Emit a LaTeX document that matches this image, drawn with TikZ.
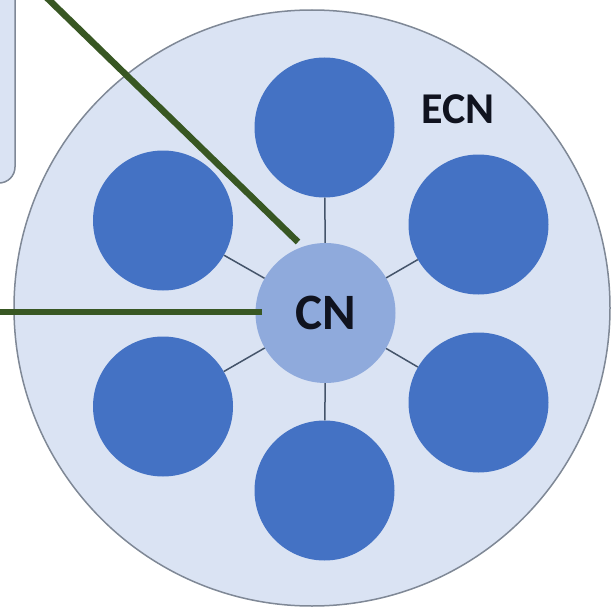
\documentclass[tikz,border=0pt]{standalone}
\usepackage{fontspec}
\setmainfont{Carlito}
\definecolor{ecnfill}{HTML}{DAE3F3}
\definecolor{ecnline}{HTML}{7F8896}
\definecolor{nodeblue}{HTML}{4472C4}
\definecolor{cnfill}{HTML}{8FAADC}
\definecolor{spoke}{HTML}{44546A}
\definecolor{linkgreen}{HTML}{385723}
\definecolor{txt}{HTML}{10131F}
\begin{document}
\begin{tikzpicture}[x=1pt,y=-1pt,
  member/.style={circle,fill=nodeblue,draw=none,minimum size=140pt,inner sep=0pt},
  core/.style={circle,fill=cnfill,draw=none,minimum size=140pt,inner sep=0pt,
    font=\fontsize{51}{51}\selectfont\bfseries,text=txt},
  cluster/.style={circle,fill=ecnfill,draw=ecnline,line width=1.5pt,minimum size=596pt,inner sep=0pt},
  spokeline/.style={draw=spoke,line width=1.5pt},
  greenlink/.style={draw=linkgreen,line width=6.5pt}]
\useasboundingbox (0,0) rectangle (611,610);
\clip (0,0) rectangle (611,610);
\fill[white] (0,0) rectangle (611,610);
% partial box at top left
\path[fill=ecnfill,draw=ecnline,line width=1.5pt,rounded corners=16pt] (-60,-60) rectangle (15,183);
% outer cluster
\node[cluster] (ecn) at (312,308) {};
\node[font=\fontsize{44}{44}\selectfont\bfseries,text=txt] (ecnlabel) at (458,109) {ECN};
% members
\node[member] (n1) at (324.5,127.5) {};
\node[member] (n2) at (478.5,224.5) {};
\node[member] (n3) at (478.5,402.5) {};
\node[member] (n4) at (324.5,490.5) {};
\node[member] (n5) at (163,406.5) {};
\node[member] (n6) at (163,220.5) {};
% core
\node[core] (cn) at (325.5,313) {CN};
\foreach \n in {n1,n2,n3,n4,n5,n6} \draw[spokeline] (cn) -- (\n);
% green links
\coordinate (g1a) at (45,-4);
\coordinate (g1b) at (298,242);
\coordinate (g2a) at (-5,312);
\coordinate (g2b) at (262,312);
\draw[greenlink] (g1a) -- (g1b);
\draw[greenlink] (g2a) -- (g2b);
\end{tikzpicture}
\end{document}
